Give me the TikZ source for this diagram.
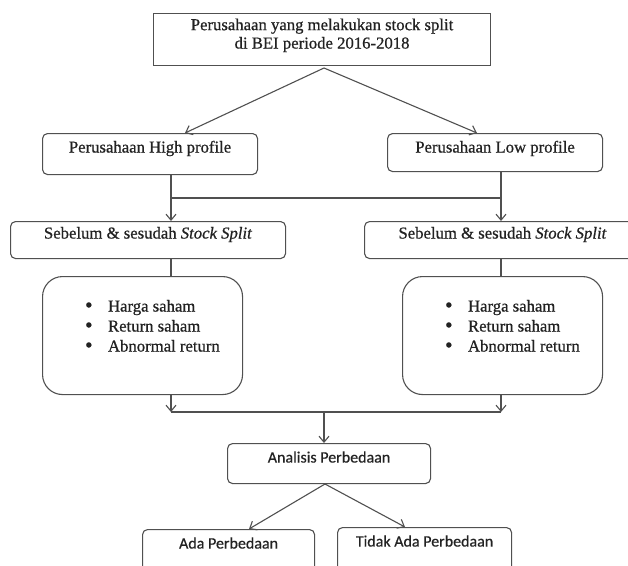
\documentclass[tikz,border=0pt]{standalone}
\usepackage{fontspec}
\setmainfont{Liberation Serif}[RawFeature={embolden=0.7}]
\newfontfamily\calibri{Carlito}[RawFeature={embolden=0.5}]
\usetikzlibrary{arrows.meta}
\definecolor{ln}{HTML}{505050}
\definecolor{tx}{HTML}{222222}
\newcommand\bul{\makebox[23pt][l]{\raisebox{-0.6pt}{\scalebox{1.3}{•}}}}
\begin{document}
\begin{tikzpicture}[x=1pt,y=-1pt,
  box/.style={draw=ln, line width=1.1pt, rounded corners=5pt, inner xsep=0pt, inner ysep=0pt,
    anchor=north west, text=tx, font=\fontsize{16.7}{18.4}\selectfont},
  sbox/.style={box, font=\calibri\fontsize{16}{19}\selectfont},
  line/.style={draw=ln, line width=1.1pt},
  arr/.style={line, -{Straight Barb[length=6pt,width=10pt]}}]

\useasboundingbox (0,0) rectangle (628,565);
\clip (0,0) rectangle (628,565);

\node[box, sharp corners, minimum width=337pt, text height=35pt, text depth=17pt] (top) at (153,13)
  {\begin{tabular}[b]{@{}c@{}}Perusahaan yang melakukan stock split\\di BEI periode 2016-2018\end{tabular}};

\node[box, minimum width=215pt, text height=19pt, text depth=22pt] (hp) at (42,133) {Perusahaan High profile};
\node[box, minimum width=215pt, text height=19pt, text depth=19pt] (lp) at (387,133) {Perusahaan Low profile};

\node[box, minimum width=275pt, text height=17pt, text depth=20pt] (sbL) at (10,221) {Sebelum \& sesudah \textit{Stock Split}};
\node[box, minimum width=276pt, text height=17pt, text depth=20pt] (sbR) at (364,221) {Sebelum \& sesudah \textit{Stock Split}};

\node[box, rounded corners=20pt, text height=75pt, text depth=43pt] (lsL) at (42,276)
  {\makebox[200pt][l]{\fontsize{16.7}{20}\selectfont\hspace{42.5pt}\begin{tabular}[b]{@{}l@{}}\bul Harga saham\\\bul Return saham\\\bul Abnormal return\end{tabular}}};
\node[box, rounded corners=20pt, text height=75pt, text depth=43pt] (lsR) at (402,276)
  {\makebox[200pt][l]{\fontsize{16.7}{20}\selectfont\hspace{42.5pt}\begin{tabular}[b]{@{}l@{}}\bul Harga saham\\\bul Return saham\\\bul Abnormal return\end{tabular}}};

\node[sbox, minimum width=203pt, text height=19pt, text depth=21pt] (an) at (227,443) {Analisis Perbedaan};
\node[sbox, minimum width=172pt, text height=19pt, text depth=25pt] (ada) at (142,529) {Ada Perbedaan};
\node[sbox, minimum width=174pt, text height=19pt, text depth=25pt] (tdk) at (337,527) {Tidak Ada Perbedaan};

\coordinate (apT) at (324,68);
\coordinate (hpIn) at (185,133);
\coordinate (lpIn) at (477,133);
\coordinate (cL) at (171,0);
\coordinate (cR) at (501,0);
\coordinate (j1) at (171,198);
\coordinate (j2) at (501,198);
\coordinate (j3) at (171,412);
\coordinate (j4) at (501,412);
\coordinate (j5) at (324,412);
\coordinate (apA) at (325,484);
\coordinate (adaIn) at (249,529);
\coordinate (tdkIn) at (405,527);

\draw[arr] (apT) -- (hpIn);
\draw[arr] (apT) -- (lpIn);
\draw[arr] (hp.south -| cL) -- (sbL.north -| cL);
\draw[arr] (lp.south -| cR) -- (sbR.north -| cR);
\draw[line] (j1) -- (j2);
\draw[line] (sbL.south -| cL) -- (lsL.north -| cL);
\draw[line] (sbR.south -| cR) -- (lsR.north -| cR);
\draw[arr] (lsL.south -| cL) -- (j3);
\draw[arr] (lsR.south -| cR) -- (j4);
\draw[line] (j3) -- (j4);
\draw[arr] (j5) -- (an.north -| j5);
\draw[arr] (apA) -- (adaIn);
\draw[arr] (apA) -- (tdkIn);
\end{tikzpicture}
\end{document}
